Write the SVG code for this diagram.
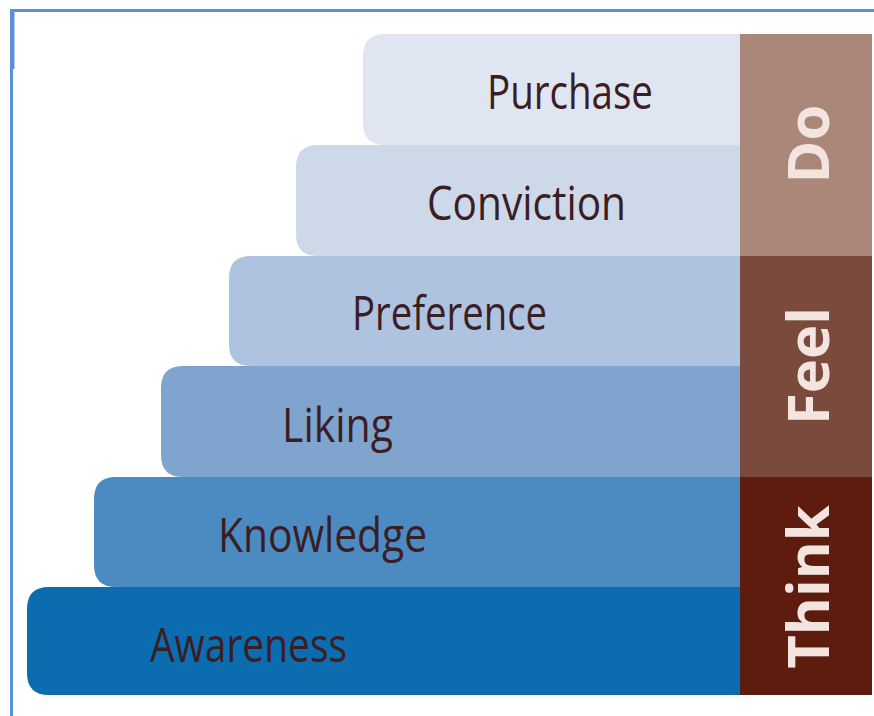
<svg xmlns="http://www.w3.org/2000/svg" width="874" height="716" viewBox="0 0 874 716">
  <style>
    .step-label { font-family: "Open Sans", "Liberation Sans", sans-serif; font-size: 48px; fill: #3b1e24; }
    .phase-label { font-family: "Open Sans", "Liberation Sans", sans-serif; font-weight: bold; font-size: 58px; fill: #f3e4e0; text-anchor: middle; }
    .frame { fill: #5b8fd8; }
  </style>
  <rect width="874" height="716" fill="#ffffff"/>

  <!-- frame lines -->
  <g id="frame">
    <rect class="frame" x="10" y="9" width="864" height="3"/>
    <rect class="frame" x="10" y="9" width="3" height="707"/>
    <rect class="frame" x="13" y="12" width="1.5" height="57"/>
  </g>

  <!-- steps, drawn top to bottom so each lower step overlaps the one above -->
  <g id="step-purchase">
    <path d="M385 34 H760 V145 H385 Q363 145 363 123 V56 Q363 34 385 34 Z" fill="#e0e6f1"/>
    <text class="step-label" x="487" y="109" textLength="166" lengthAdjust="spacingAndGlyphs">Purchase</text>
  </g>
  <g id="step-conviction">
    <path d="M318 145 H760 V256 H318 Q296 256 296 234 V167 Q296 145 318 145 Z" fill="#cdd8e9"/>
    <text class="step-label" x="427" y="220" textLength="199" lengthAdjust="spacingAndGlyphs">Conviction</text>
  </g>
  <g id="step-preference">
    <path d="M251 256 H760 V366 H251 Q229 366 229 344 V278 Q229 256 251 256 Z" fill="#aec3df"/>
    <text class="step-label" x="352" y="330" textLength="195" lengthAdjust="spacingAndGlyphs">Preference</text>
  </g>
  <g id="step-liking">
    <path d="M183 366 H760 V477 H183 Q161 477 161 455 V388 Q161 366 183 366 Z" fill="#7fa5cf"/>
    <text class="step-label" x="282" y="442" textLength="111" lengthAdjust="spacingAndGlyphs">Liking</text>
  </g>
  <g id="step-knowledge">
    <path d="M116 477 H760 V587 H116 Q94 587 94 565 V499 Q94 477 116 477 Z" fill="#4c8ac2"/>
    <text class="step-label" x="218" y="552" textLength="209" lengthAdjust="spacingAndGlyphs">Knowledge</text>
  </g>
  <g id="step-awareness">
    <path d="M49 587 H760 V695 H49 Q27 695 27 673 V609 Q27 587 49 587 Z" fill="#0b6caf"/>
    <text class="step-label" x="150" y="662" textLength="197" lengthAdjust="spacingAndGlyphs">Awareness</text>
  </g>

  <!-- phase bars on the right -->
  <g id="phase-do">
    <rect x="740" y="34" width="132" height="222" fill="#aa8778"/>
    <text class="phase-label" transform="translate(829 144) rotate(-90)">Do</text>
  </g>
  <g id="phase-feel">
    <rect x="740" y="256" width="132" height="221" fill="#7a4a3c"/>
    <text class="phase-label" transform="translate(829 366) rotate(-90)">Feel</text>
  </g>
  <g id="phase-think">
    <rect x="740" y="477" width="132" height="218" fill="#5e1c0e"/>
    <text class="phase-label" transform="translate(829 587) rotate(-90)">Think</text>
  </g>

  <g id="connectors"/>
</svg>
